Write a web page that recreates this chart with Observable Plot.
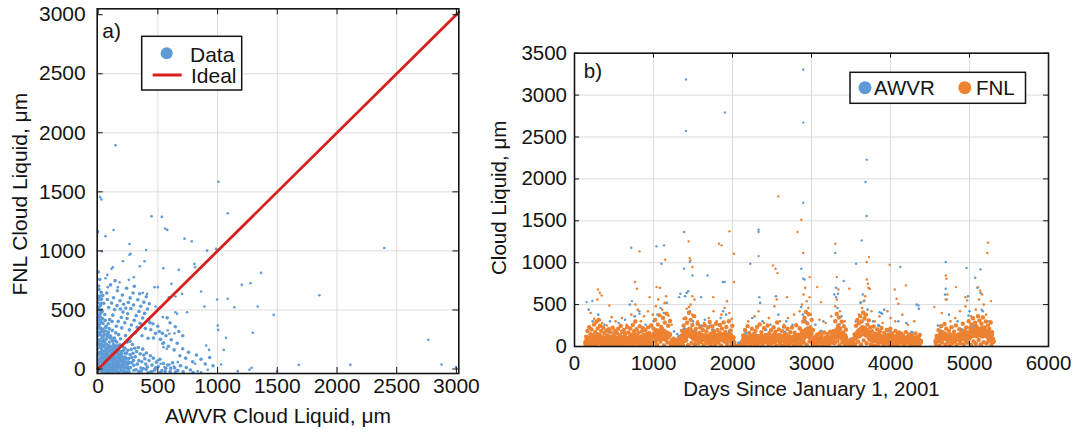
<!DOCTYPE html>
<html><head><meta charset="utf-8">
<script src="https://cdn.jsdelivr.net/npm/d3@7"></script>
<script src="https://cdn.jsdelivr.net/npm/@observablehq/plot@0.6"></script>
<style>
body{margin:0;background:#fff;}
#wrap{position:relative;width:1073px;height:432px;overflow:hidden;background:#fff;font-family:"Liberation Sans",Arial,sans-serif;}
#pa{position:absolute;left:0;top:0;}
#pb{position:absolute;left:480px;top:0;}
#ov{position:absolute;left:0;top:0;pointer-events:none;}
</style></head>
<body><div id="wrap"><div id="pa"></div><div id="pb"></div></div>
<script>
// ---------- tick labels ----------
const ticksXA = [0, 500, 1000, 1500, 2000, 2500, 3000];
const ticksYA = [0, 500, 1000, 1500, 2000, 2500, 3000];
const ticksXB = [0, 1000, 2000, 3000, 4000, 5000, 6000];
const ticksYB = [0, 500, 1000, 1500, 2000, 2500, 3000, 3500];

// ---------- panel a: AWVR vs FNL cloud liquid (µm) ----------
const idealX = [0, 3020];
const idealY = [0, 3020];
const scatterOutliers = [[145,1895],[1007,1586],[17,1455],[28,1435],[1085,1318],[447,1293],[533,1288],[129,1177],[62,1124],[561,1190],[578,1178],[723,1104],[784,1082],[263,1059],[402,1008],[988,1017],[912,1002],[2396,1025],[31,997],[271,975],[263,968],[207,912],[388,912],[123,862],[112,848],[349,870],[547,853],[806,890],[675,839],[812,862],[1364,814],[76,797],[62,769],[299,777],[257,755],[179,735],[165,693],[81,693],[1203,712],[1276,726],[614,721],[472,693],[500,693],[1853,625],[862,656],[703,636],[647,614],[591,608],[374,645],[410,636],[1085,594],[996,588],[1141,523],[1336,529],[890,529],[1470,458],[647,481],[661,467],[745,481],[480,529],[500,509],[541,439],[1002,368],[1005,331],[1295,306],[1071,264],[2765,247],[904,199],[929,162],[1052,162],[583,326],[597,298],[639,303],[536,213],[547,185],[575,171],[812,44],[1680,35],[2112,35],[2876,38],[2996,16],[1267,-7],[1284,10],[918,-7],[1030,38],[1169,-18],[1498,-18],[834,-18],[862,-27],[667,58],[695,30],[597,38],[611,2],[634,21],[500,72],[522,44],[555,16],[472,2],[458,-18]];
const scatterCluster = [[-15,15],[3,35],[12,58],[-6,77],[22,96],[1,118],[9,139],[-13,163],[27,181],[6,204],[-4,222],[16,238],[31,262],[-1,283],[11,301],[-9,318],[21,342],[4,361],[-7,384],[24,402],[9,417],[2,443],[14,462],[-11,478],[29,501],[6,523],[19,538],[-2,561],[11,588],[-6,618],[26,649],[4,703],[13,758],[1,821],[-5,1163],[38,72],[41,128],[-22,3],[33,207],[43,313],[36,428],[47,557],[-14,262],[3,449],[13,382],[-3,171],[24,288],[18,472],[29,592],[7,672],[-8,533],[34,486],[45,244],[-17,97],[8,311],[17,187],[-10,405],[41,386],
[52,18],[63,47],[71,8],[83,79],[92,38],[104,118],[112,4],[121,61],[133,148],[142,27],[151,92],[163,197],[171,12],[182,118],[188,63],[203,22],[212,158],[221,81],[233,43],[243,228],[252,-3],[47,152],[57,198],[66,251],[78,297],[86,182],[96,228],[107,268],[118,327],[127,208],[136,262],[147,306],[54,102],[67,138],[76,171],[87,112],[94,73],[106,33],[117,98],[126,14],[137,97],[146,53],[157,141],[166,68],[176,178],[186,27],[196,104],[206,58],[216,11],[227,133],[236,88],[246,21],[61,-18],[98,-27],[142,-12],[179,-31],[222,-16],[258,-24],[301,-11],[342,-22],[378,4],[419,-29],[262,52],[283,98],[299,31],[322,148],[341,71],[358,9],[382,118],[398,42],[48,-8],[73,-32],[112,-4],[156,-22],[193,-9],[237,-28],[88,2],[132,-1],[58,76],[69,112],[81,23],[99,158],[113,182],[124,236],[139,198],[152,172],[168,128],[178,88],[191,148],[199,37],[209,102],[224,176],[239,133],[249,62],[268,121],[276,166],[287,208],[296,72],[311,103],[328,41],[336,182],[352,128],[366,62],[373,168],[391,87],[404,136],[412,18],[426,72],[437,112],[451,33],[462,92],[476,-7],[488,58],[503,21],[517,83],[534,-14],[546,47],[566,6],[582,33],[603,-21],[624,52],[641,8],[666,-12],[688,28],[712,-24],[738,12],[772,-8],[796,-30],[271,13],[318,-6],[362,-17],[401,-3],[444,-21],[482,12],[521,-28],[561,-19],[606,9],[648,-26],
[62,352],[84,383],[97,418],[122,456],[138,503],[158,537],[183,578],[203,626],[88,521],[113,558],[129,603],[72,644],[152,362],[168,403],[194,437],[208,482],[231,517],[253,563],[268,602],[292,644],[198,348],[223,392],[242,428],[261,331],[278,373],[302,412],[318,452],[342,487],[357,532],[383,566],[403,612],[312,308],[327,353],[351,388],[372,432],[389,471],[413,508],[428,553],[161,663],[238,684],[303,701],[348,637],[422,418],[441,332],[458,383],[481,302],[499,362],[522,251],[538,302],[101,282],[171,291],[229,283],[56,462],[77,588],[104,712],[142,748],[117,402],[186,508],[213,548],[247,468],[274,512],[296,542],[332,586],[367,282],[396,342],[418,261],[433,393],[463,262],[512,318],[548,221],[568,282],[588,193],[612,248],[636,162],[662,218],[684,112],[708,172],[733,92],[756,142],[792,62],[823,118],[861,83],[897,42],[934,98],[962,28],[578,433],[602,392],[646,358],[676,318],[708,282],
[15,5],[28,22],[42,8],[35,45],[19,66],[51,35],[44,88],[62,62],[75,41],[58,122],[33,108],[70,92],[88,55],[101,78],[93,12],[115,42],[128,80],[109,138],[84,148],[66,172],[48,188],[37,232],[55,226],[72,208],[91,196],[118,164],[138,122],[149,74],[161,38],[174,54],[187,92],[164,108],[197,132],[208,188],[183,206],[156,228],[131,176],[119,248],[98,262],[76,276],[52,292],[39,338],[61,322],[86,312],[23,132],[11,84],[-7,52],[5,12],[18,-12],[34,-21],[57,-5],[82,-14],[103,-8],[125,-24],[148,4],[167,-16],[189,8],[211,-19],[232,12],[248,44],[224,62],[215,38],[198,77],[176,22],[152,18],[137,44],[121,24],[96,96],[78,128],[63,154],[47,118],[29,156],[16,212],[9,248],[-9,298],[27,318],[14,354],[-4,342],[21,436],[-2,512],[12,498],[26,556],[39,622],[16,618],[3,598],[-12,46],[-19,128],[-16,202],[-11,352],[-21,428],[42,272],[66,362],[92,342],[58,412],[104,188],[142,242],[171,152],[226,102],[258,88],[247,158],[281,52],[292,134],[306,176],[266,236],[187,256]];

// ---------- panel b: time series, [day, value µm] ----------
const awvrOutliers = [[2895,3305],[1411,3186],[1904,2792],[2895,2672],[1411,2573],[3699,2230],[3684,1963],[2895,1716],[3699,1557],[1388,1366],[2330,1394],[2330,1366],[3636,1266],[3301,1115],[1038,1195],[1134,1207],[718,1179],[2330,1079],[2225,988],[1100,988],[4699,1008],[4962,936],[5139,920],[4124,948],[3565,988],[1388,928],[1459,1008],[2871,928],[5072,820],[1493,848],[1684,848],[1876,769],[1900,769],[3407,781],[2895,808],[4699,689],[1603,589],[2340,589],[1325,589],[1340,629],[4354,490],[3311,589],[3335,629],[5153,438],[153,530],[225,542],[727,542],[3670,550],[3622,530],[3861,410],[3895,390],[823,390],[766,362],[4986,370]];
const awvrMid = [[180,440],[230,300],[300,380],[380,260],[450,300],[560,280],[640,320],[700,500],[760,360],[820,420],[900,260],[1000,300],[1050,380],[1090,460],[1130,400],[1170,520],[1200,300],[1260,180],[1300,150],[1400,600],[1420,640],[1440,660],[1460,420],[1500,300],[1580,260],[1650,320],[1720,250],[1850,340],[1880,420],[1920,380],[1950,300],[2250,340],[2350,520],[2380,300],[2480,260],[2550,600],[2580,380],[2680,300],[2760,260],[2870,470],[2890,380],[2910,800],[2930,300],[3050,260],[3150,300],[3290,620],[3310,700],[3330,460],[3380,360],[3560,300],[3620,520],[3650,620],[3670,380],[3710,440],[3780,300],[3880,400],[3920,440],[4100,300],[4200,280],[4330,500],[4360,450],[4600,250],[4690,620],[4710,560],[4740,380],[4850,300],[4980,600],[5000,420],[5100,700],[5140,640],[5170,420],[5230,300]];
const awvrBase = [[220,140],[310,90],[430,180],[520,60],[640,150],[760,120],[880,200],[960,90],[1180,250],[1270,80],[1320,120],[1390,210],[1530,170],[1610,240],[1750,200],[1830,260],[1960,180],[2080,40],[2170,160],[2260,120],[2420,200],[2540,90],[2660,170],[2790,140],[2950,220],[3120,180],[3230,110],[3350,260],[3500,90],[3600,200],[3740,160],[3850,250],[3990,190],[4120,150],[4270,170],[4350,120],[4640,180],[4780,130],[4900,200],[5050,240],[5200,200],[5290,150]];
const fnlOutliers = [[2579,1792],[2871,1513],[2823,1366],[1962,1374],[1828,1227],[1861,1207],[3301,1227],[1445,1254],[2019,1107],[2895,1115],[5234,1239],[5225,1115],[823,1135],[1148,1035],[1459,1055],[1469,1027],[3727,1067],[3699,1008],[3990,976],[2512,968],[2545,928],[2569,876],[1493,948],[4699,848],[4708,808],[2976,828],[3321,828],[2019,769],[766,769],[3713,749],[3737,689],[4196,729],[4053,681],[3072,709],[1038,709],[297,681],[344,609],[2689,589],[3478,689],[4828,709],[4948,589],[4971,550],[5110,709],[5134,669],[1756,589],[1493,601],[952,589],[440,490],[5273,542],[4077,569],[4100,510],[4555,470],[2976,589],[3120,530]];
const fnlMid = [[205,400],[250,330],[290,560],[320,640],[350,280],[410,250],[470,350],[520,300],[600,340],[660,260],[720,380],[770,500],[790,690],[800,440],[840,300],[880,360],[930,420],[990,380],[1030,480],[1060,560],[1080,700],[1110,440],[1140,520],[1160,600],[1190,370],[1230,260],[1380,330],[1420,450],[1450,470],[1470,500],[1490,380],[1520,560],[1560,300],[1640,280],[1700,340],[1760,420],[1800,300],[1860,380],[1900,460],[1930,540],[1960,400],[1990,330],[2200,300],[2280,360],[2330,420],[2400,280],[2460,340],[2530,480],[2560,560],[2600,300],[2650,260],[2700,340],[2780,380],[2850,420],[2880,500],[2900,620],[2920,700],[2940,540],[2960,460],[2990,380],[3100,320],[3180,280],[3250,360],[3300,480],[3320,560],[3340,680],[3360,420],[3420,300],[3600,380],[3640,460],[3660,540],[3680,600],[3700,800],[3720,700],[3760,420],[3800,300],[3860,360],[3900,280],[3960,420],[4000,340],[4060,300],[4150,380],[4220,260],[4300,300],[4650,400],[4700,560],[4720,620],[4760,300],[4820,340],[4880,420],[4950,480],[5020,360],[5080,440],[5120,560],[5160,620],[5180,500],[5210,380],[5260,300]];
const fnlBase = [[141,22],[149,118],[156,64],[163,185],[171,8],[178,92],[186,231],[194,41],[201,146],[209,15],[216,203],[224,78],[232,128],[239,30],[247,262],[255,55],[262,170],[270,12],[278,296],[285,98],[293,214],[301,36],[308,318],[316,141],[324,248],[331,62],[339,187],[347,19],[354,112],[362,226],[370,47],[378,158],[386,9],[394,96],[402,192],[410,33],[418,131],[426,68],[434,205],[442,14],[450,117],[458,172],[466,51],[474,88],[482,223],[490,26],[498,143],[506,74],[514,188],[522,11],[530,106],[538,159],[546,42],[554,212],[562,83],[570,18],[578,134],[586,246],[594,57],[602,176],[610,29],[618,101],[626,198],[634,44],[642,152],[650,13],[658,86],[666,233],[674,61],[682,168],[690,24],[698,119],[706,214],[714,38],[722,142],[730,72],[738,256],[746,17],[754,183],[762,93],[770,298],[778,48],[786,207],[794,126],[802,21],[810,166],[818,63],[826,241],[834,104],[842,31],[850,178],[858,81],[866,219],[874,12],[882,137],[890,58],[898,196],[906,27],[914,148],[922,91],[930,228],[938,43],[946,163],[954,16],[962,112],[970,251],[978,69],
[989,34],[1000,211],[1011,96],[1022,318],[1033,152],[1044,22],[1055,264],[1066,121],[1077,372],[1088,58],[1099,233],[1110,176],[1121,341],[1132,14],[1143,287],[1154,103],[1165,392],[1176,47],[1187,248],[1198,139],[1209,305],
[1220,28],[1231,71],[1242,12],[1253,94],[1264,41],[1275,63],[1286,8],[1297,82],[1308,33],[1319,54],[1330,17],[1338,118],
[1349,62],[1360,187],[1371,24],[1382,251],[1393,118],[1404,336],[1415,71],[1426,284],[1437,15],[1448,402],[1459,166],[1470,318],[1481,43],[1492,257],[1503,131],[1514,362],[1525,26],[1536,208],[1547,89],[1558,271],[1569,37],[1580,163],[1591,228],[1602,54],[1613,142],[1624,197],[1635,18],[1646,253],[1657,106],[1668,181],[1679,41],[1690,226],[1701,77],[1712,292],
[1723,19],[1734,156],[1745,238],[1756,64],[1767,181],[1778,27],[1789,272],[1800,112],[1811,198],[1822,46],[1833,147],[1844,256],[1855,13],[1866,213],[1877,92],[1888,288],[1899,58],[1910,174],[1921,232],[1932,31],[1943,124],[1954,301],[1965,72],[1976,192],[1987,24],[1998,247],[2009,108],
[2034,6],[2061,11],[2090,4],[2112,16],
[2125,34],[2136,132],[2147,71],[2158,198],[2169,15],[2180,114],[2191,243],[2202,52],[2213,161],[2224,26],[2235,92],[2246,211],[2257,43],[2268,148],[2279,9],[2290,186],[2301,77],[2312,232],[2323,31],[2334,126],[2345,264],[2356,58],[2367,172],[2378,18],[2389,103],[2400,218],[2411,47],[2422,137],[2433,84],[2444,251],[2455,22],[2466,158],[2477,69],[2488,196],[2499,36],[2510,113],[2521,229],[2532,53],[2543,177],[2554,14],[2565,286],[2576,97],[2587,204],[2598,41],[2609,128],[2620,12],[2631,183],[2642,74],[2653,237],[2664,29],[2675,146],[2686,62],[2697,208],[2708,19],[2719,119],[2730,171],[2741,44],[2752,226],[2763,88],[2774,13],[2785,164],[2796,57],[2807,253],[2818,32],[2829,141],[2840,79],[2851,218],[2862,24],[2873,187],[2884,106],[2895,298],
[2903,48],[2912,341],[2921,167],[2930,412],[2939,22],[2948,276],[2957,128],[2966,384],[2975,63],[2984,231],[2993,152],[3002,318],[3011,37],[3020,198],[3029,94],
[3040,16],[3051,118],[3062,62],[3073,143],[3084,27],[3095,97],[3106,158],[3117,41],[3128,126],[3139,8],[3150,84],[3161,167],[3172,33],[3183,112],[3194,57],[3205,149],[3216,21],[3227,102],[3238,176],[3249,46],[3260,131],[3271,73],
[3283,186],[3292,38],[3301,302],[3310,142],[3319,388],[3328,67],[3337,251],[3346,346],[3355,19],[3364,212],[3373,118],[3382,296],[3391,52],[3400,167],[3409,243],[3418,29],[3427,136],[3436,201],[3445,61],
[3458,24],[3469,58],[3480,11],[3491,43],[3502,71],[3513,16],[3524,52],[3535,88],
[3545,142],[3554,31],[3563,247],[3572,116],[3581,318],[3590,58],[3599,276],[3608,191],[3617,362],[3626,24],[3635,298],[3644,147],[3653,406],[3662,73],[3671,334],[3680,212],[3689,378],[3698,39],[3707,261],[3716,163],[3725,312],[3734,84],[3743,228],
[3755,26],[3766,183],[3777,97],[3788,238],[3799,14],[3810,152],[3821,66],[3832,204],[3843,31],[3854,128],[3865,176],[3876,48],[3887,221],[3898,87],[3909,12],[3920,162],[3931,109],[3942,37],[3953,197],[3964,72],[3975,143],[3986,21],[3997,211],[4008,94],[4019,158],[4030,29],[4041,122],[4052,64],[4063,186],[4074,17],[4085,138],[4096,78],[4107,168],[4118,34],[4129,107],[4140,152],[4151,47],[4162,126],[4173,9],[4184,96],[4195,172],[4206,38],[4217,118],[4228,62],[4239,143],[4250,21],[4261,89],[4272,131],[4283,44],[4294,102],[4305,13],[4316,156],[4327,68],[4338,112],[4349,27],[4360,86],[4371,138],[4379,41],
[4574,32],[4585,128],[4596,67],[4607,196],[4618,14],[4629,153],[4640,242],[4651,48],[4662,171],[4673,91],[4684,268],[4695,23],[4706,213],[4717,124],[4728,56],[4739,187],[4750,12],[4761,143],[4772,231],[4783,39],[4794,108],[4805,176],[4816,62],[4827,252],[4838,19],[4849,138],[4860,84],[4871,207],[4882,41],[4893,162],[4904,117],[4915,272],[4926,28],[4937,188],[4948,73],[4959,226],
[4972,46],[4981,168],[4990,302],[4999,92],[5008,221],[5017,18],[5026,263],[5035,137],[5044,338],[5053,61],[5062,198],[5071,283],[5080,34],[5089,242],[5098,151],[5107,362],[5116,77],[5125,311],[5134,188],[5143,24],[5152,272],[5161,118],[5170,346],[5179,52],[5188,226],[5197,163],[5206,298],[5215,39],[5224,187],[5233,251],[5242,66],[5251,208],[5260,131],[5269,286],[5278,21],[5287,172],[5296,94]];
const fnlFloor = [[145,48],[161,92],[177,31],[193,74],[209,105],[225,58],[241,86],[257,27],[273,112],[289,66],[305,138],[321,94],[337,52],[353,81],[369,36],[385,69],[401,97],[417,44],[433,78],[449,58],[465,101],[481,34],[497,72],[513,88],[529,47],[545,63],[561,96],[577,39],[593,82],[609,55],[625,107],[641,42],[657,76],[673,91],[689,52],[705,84],[721,63],[737,118],[753,71],[769,132],[785,88],[801,56],[817,97],[833,74],[849,112],[865,49],[881,86],[897,103],[913,61],[929,94],[945,77],[961,121],[977,58],
[993,102],[1009,148],[1025,76],[1041,186],[1057,121],[1073,164],[1089,92],[1105,202],[1121,134],[1137,176],[1153,88],[1169,158],[1185,116],[1201,142],
[1227,38],[1243,22],[1259,46],[1275,18],[1291,35],[1307,26],[1323,42],
[1347,88],[1363,124],[1379,72],[1395,156],[1411,118],[1427,188],[1443,142],[1459,204],[1475,126],[1491,168],[1507,97],[1523,146],[1539,82],[1555,118],[1571,94],[1587,136],[1603,77],[1619,112],[1635,86],[1651,128],[1667,71],[1683,104],[1699,92],[1715,138],
[1731,64],[1747,112],[1763,87],[1779,134],[1795,76],[1811,118],[1827,92],[1843,151],[1859,83],[1875,127],[1891,102],[1907,146],[1923,78],[1939,121],[1955,96],[1971,138],[1987,71],[2003,104],[2014,48],
[2128,52],[2144,86],[2160,64],[2176,108],[2192,73],[2208,97],[2224,58],[2240,116],[2256,69],[2272,92],[2288,124],[2304,61],[2320,88],[2336,103],[2352,72],[2368,118],[2384,54],[2400,96],[2416,82],[2432,128],[2448,66],[2464,104],[2480,77],[2496,112],[2512,89],[2528,136],[2544,72],[2560,118],[2576,94],[2592,132],[2608,68],[2624,101],[2640,84],[2656,122],[2672,58],[2688,96],[2704,74],[2720,109],[2736,62],[2752,98],[2768,81],[2784,117],[2800,66],[2816,102],[2832,88],[2848,128],[2864,76],[2880,142],[2896,98],
[2908,168],[2922,124],[2936,196],[2950,148],[2964,182],[2978,116],[2992,158],[3006,102],[3022,86],
[3038,54],[3054,78],[3070,42],[3086,66],[3102,88],[3118,51],[3134,72],[3150,46],[3166,84],[3182,58],[3198,76],[3214,43],[3230,69],[3246,92],[3262,61],[3278,104],
[3290,138],[3304,172],[3318,126],[3332,204],[3346,158],[3360,118],[3374,146],[3388,98],[3402,122],[3416,84],[3430,106],[3444,72],
[3462,28],[3478,41],[3494,22],[3510,36],[3526,31],
[3548,96],[3562,142],[3576,118],[3590,176],[3604,132],[3618,198],[3632,152],[3646,224],[3660,168],[3674,206],[3688,144],[3702,188],[3716,126],[3730,162],[3744,108],
[3758,88],[3774,124],[3790,76],[3806,112],[3822,94],[3838,136],[3854,82],[3870,118],[3886,97],[3902,64],[3918,108],[3934,86],[3950,122],[3966,71],[3982,98],[3998,114],[4014,68],[4030,92],[4046,77],[4062,104],[4078,58],[4094,86],[4110,72],[4126,98],[4142,61],[4158,84],[4174,52],[4190,78],[4206,66],[4222,91],[4238,48],[4254,72],[4270,58],[4286,84],[4302,43],[4318,68],[4334,52],[4350,76],[4366,38],[4378,62],
[4578,62],[4594,96],[4610,74],[4626,118],[4642,86],[4658,132],[4674,98],[4690,146],[4706,112],[4722,88],[4738,124],[4754,72],[4770,106],[4786,92],[4802,128],[4818,78],[4834,114],[4850,96],[4866,136],[4882,84],[4898,118],[4914,102],[4930,142],[4946,91],[4962,126],
[4978,108],[4992,152],[5006,118],[5020,174],[5034,132],[5048,196],[5062,146],[5076,182],[5090,128],[5104,208],[5118,156],[5132,192],[5146,138],[5160,214],[5174,162],[5188,186],[5202,134],[5216,172],[5230,118],[5244,156],[5258,102],[5272,138],[5286,84],[5298,62]];

// ---------- styling ----------
const BLUE = "#5e9bd6", ORANGE = "#ec8232", RED = "#d7201e", INK = "#141414", GRID = "#dcdcdc";
const FONT = "Liberation Sans, Arial, Helvetica, sans-serif";
const rows = (pairs) => pairs.map(([x, y]) => ({x, y}));
const fmt = d => String(d);

// ---------- panel a ----------
const A = {L: 96.7, R: 458.3, T: 8.3, B: 373, W: 470, H: 432};
const ax0 = -8, ax1 = 3020, ay0 = -38, ay1 = 3050;
const tkA_x = 6 / ((A.R - A.L) / (ax1 - ax0));
const tkA_y = 6 / ((A.B - A.T) / (ay1 - ay0));
const gridA = ticksXA.slice(1, -1);
const idealRows = idealX.map((x, i) => ({x, y: idealY[i]}));

const plotA = Plot.plot({
  width: A.W, height: A.H,
  marginLeft: A.L, marginRight: A.W - A.R, marginTop: A.T, marginBottom: A.H - A.B,
  x: {domain: [ax0, ax1]}, y: {domain: [ay0, ay1]},
  style: {fontFamily: FONT, fontSize: "21px", color: INK, background: "white", overflow: "visible"},
  marks: [
    Plot.ruleX(gridA, {stroke: GRID, strokeWidth: 1}),
    Plot.ruleY(gridA, {stroke: GRID, strokeWidth: 1}),
    Plot.dot(rows(scatterCluster), {x: "x", y: "y", r: 1.8, fill: BLUE, stroke: null, clip: true}),
    Plot.dot(rows(scatterOutliers), {x: "x", y: "y", r: 1.3, fill: BLUE, stroke: null, clip: true}),
    Plot.line(idealRows, {x: "x", y: "y", stroke: RED, strokeWidth: 2.8}),
    Plot.ruleX(ticksXA, {x: d => d, y1: ay0, y2: ay0 + tkA_y, stroke: INK, strokeWidth: 1}),
    Plot.ruleX(ticksXA, {x: d => d, y1: ay1, y2: ay1 - tkA_y, stroke: INK, strokeWidth: 1}),
    Plot.ruleY(ticksYA, {y: d => d, x1: ax0, x2: ax0 + tkA_x, stroke: INK, strokeWidth: 1}),
    Plot.ruleY(ticksYA, {y: d => d, x1: ax1, x2: ax1 - tkA_x, stroke: INK, strokeWidth: 1}),
    Plot.frame({stroke: INK, strokeWidth: 1.6}),
    Plot.axisX(ticksXA, {tickSize: 0, tickPadding: 5, fontSize: 21, fill: INK, label: null, tickFormat: fmt}),
    Plot.axisY(ticksYA, {tickSize: 0, tickPadding: 11.5, fontSize: 21, fill: INK, label: null, tickFormat: fmt}),
    Plot.text(["AWVR Cloud Liquid, μm"], {text: d => d, frameAnchor: "bottom", dy: 42.5, lineAnchor: "middle", textAnchor: "middle", fontSize: 21, fill: INK}),
    Plot.text(["FNL Cloud Liquid, μm"], {text: d => d, frameAnchor: "left", rotate: -90, dx: -76.5, dy: 3, lineAnchor: "middle", textAnchor: "middle", fontSize: 21, fill: INK}),
    Plot.text(["a)"], {text: d => d, frameAnchor: "top-left", dx: 5, dy: 14, lineAnchor: "top", textAnchor: "start", fontSize: 21, fill: INK})
  ]
});
document.getElementById("pa").append(plotA);

// ---------- panel b ----------
const B = {L: 94, R: 568, T: 52.7, B: 346, W: 593, H: 432};
const bx0 = 0, bx1 = 6000, by0 = 0, by1 = 3500;
const tkB_x = 5 / ((B.R - B.L) / (bx1 - bx0));
const tkB_y = 5 / ((B.B - B.T) / (by1 - by0));

const plotB = Plot.plot({
  width: B.W, height: B.H,
  marginLeft: B.L, marginRight: B.W - B.R, marginTop: B.T, marginBottom: B.H - B.B,
  x: {domain: [bx0, bx1]}, y: {domain: [by0, by1]},
  style: {fontFamily: FONT, fontSize: "20.5px", color: INK, background: "white", overflow: "visible"},
  marks: [
    Plot.ruleX(ticksXB.slice(1, -1), {stroke: GRID, strokeWidth: 1}),
    Plot.ruleY(ticksYB.slice(1, -1), {stroke: GRID, strokeWidth: 1}),
    Plot.dot(rows(awvrBase), {x: "x", y: "y", r: 1.8, fill: BLUE, stroke: null, clip: true}),
    Plot.dot(rows(awvrMid), {x: "x", y: "y", r: 1.3, fill: BLUE, stroke: null}),
    Plot.dot(rows(awvrOutliers), {x: "x", y: "y", r: 1.2, fill: BLUE, stroke: null}),
    Plot.dot(rows(fnlFloor), {x: "x", y: "y", r: 2.8, fill: ORANGE, stroke: null, clip: true}),
    Plot.dot(rows(fnlBase), {x: "x", y: "y", r: 2.2, fill: ORANGE, stroke: null, clip: true}),
    Plot.dot(rows(fnlMid), {x: "x", y: "y", r: 1.3, fill: ORANGE, stroke: null}),
    Plot.dot(rows(fnlOutliers), {x: "x", y: "y", r: 1.2, fill: ORANGE, stroke: null}),
    Plot.ruleX(ticksXB, {x: d => d, y1: by0, y2: by0 + tkB_y, stroke: INK, strokeWidth: 1}),
    Plot.ruleX(ticksXB, {x: d => d, y1: by1, y2: by1 - tkB_y, stroke: INK, strokeWidth: 1}),
    Plot.ruleY(ticksYB, {y: d => d, x1: bx0, x2: bx0 + tkB_x, stroke: INK, strokeWidth: 1}),
    Plot.ruleY(ticksYB, {y: d => d, x1: bx1, x2: bx1 - tkB_x, stroke: INK, strokeWidth: 1}),
    Plot.frame({stroke: INK, strokeWidth: 1.6}),
    Plot.axisX(ticksXB, {tickSize: 0, tickPadding: 8.5, fontSize: 20.5, fill: INK, label: null, tickFormat: fmt}),
    Plot.axisY(ticksYB, {tickSize: 0, tickPadding: 7.5, fontSize: 20.5, fill: INK, label: null, tickFormat: fmt}),
    Plot.text(["Days Since January 1, 2001"], {text: d => d, frameAnchor: "bottom", dy: 42.5, lineAnchor: "middle", textAnchor: "middle", fontSize: 20.5, fill: INK}),
    Plot.text(["Cloud Liquid, μm"], {text: d => d, frameAnchor: "left", rotate: -90, dx: -75, dy: -2, lineAnchor: "middle", textAnchor: "middle", fontSize: 20.5, fill: INK}),
    Plot.text(["b)"], {text: d => d, frameAnchor: "top-left", dx: 9.3, dy: 10.5, lineAnchor: "top", textAnchor: "start", fontSize: 20.5, fill: INK})
  ]
});
document.getElementById("pb").append(plotB);

// ---------- legends (overlay) ----------
const ov = d3.select("#wrap").append("svg").attr("id", "ov").attr("width", 1073).attr("height", 432)
  .style("font-family", FONT);
ov.append("rect").attr("x", 141.7).attr("y", 36.3).attr("width", 100).attr("height", 53.7)
  .attr("fill", "white").attr("stroke", INK).attr("stroke-width", 1.5);
ov.append("circle").attr("cx", 166.7).attr("cy", 53.3).attr("r", 6).attr("fill", BLUE);
ov.append("text").attr("x", 190).attr("y", 61.7).attr("font-size", 21).attr("fill", INK).text("Data");
ov.append("line").attr("x1", 152.7).attr("x2", 181.7).attr("y1", 75).attr("y2", 75)
  .attr("stroke", RED).attr("stroke-width", 3);
ov.append("text").attr("x", 191).attr("y", 83.3).attr("font-size", 21).attr("fill", INK).text("Ideal");
ov.append("rect").attr("x", 850).attr("y", 72.3).attr("width", 175.5).attr("height", 31)
  .attr("fill", "white").attr("stroke", INK).attr("stroke-width", 1.5);
ov.append("circle").attr("cx", 865).attr("cy", 87.7).attr("r", 6.5).attr("fill", BLUE);
ov.append("text").attr("x", 874).attr("y", 94.5).attr("font-size", 20.5).attr("fill", INK).text("AWVR");
ov.append("circle").attr("cx", 964.8).attr("cy", 87.7).attr("r", 6.5).attr("fill", ORANGE);
ov.append("text").attr("x", 976).attr("y", 94.5).attr("font-size", 20.5).attr("fill", INK).text("FNL");
</script>
</body></html>
